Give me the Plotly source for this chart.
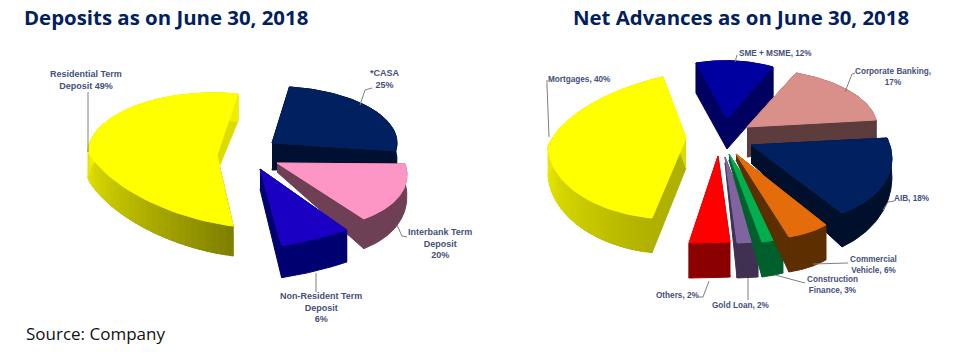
import numpy as np
import plotly.graph_objects as go

# ---------- data ----------
dep_labels = ["*CASA", "Interbank Term Deposit", "Non-Resident Term Deposit", "Residential Term Deposit"]
dep_values = [25, 20, 6, 49]
adv_labels = ["SME + MSME", "Corporate Banking", "AIB", "Commercial Vehicle", "Construction Finance",
              "Gold Loan", "Others", "Mortgages"]
adv_values = [12, 17, 18, 6, 3, 2, 2, 40]

title_left = "Deposits as on June 30, 2018"
title_right = "Net Advances as on June 30, 2018"
source_text = "Source: Company"

# ---------- styling / projection per slice ----------
# ax, ay: top-face apex on page; rx, kb, kf, ryb, ryf, ky: projection; d0, d1, da: wall depth; b: rim bulge
dep_style = [
    dict(ax=272, ay=143, rx=125, kb=0, kf=0, ryb=56.6, ryf=56.6, ky=0, d0=17, d1=0, da=27, top="#002060", wall=("#001030", "#001030")),
    dict(ax=277, ay=163, rx=120, kb=67, kf=67, ryb=58, ryf=58, ky=-7.1, d0=17, d1=13, da=9, b=0.6, top="#fd95c5", wall=("#6e3f55", "#6e3f55")),
    dict(ax=260, ay=169, rx=173, kb=57.6, kf=57.6, ryb=69.5, ryf=69.5, ky=-42.9, d0=30, d1=2, da=20, top="#1a00c2", wall=("#000070", "#000070")),
    dict(ax=217, ay=155, rx=129, kb=-3, kf=43, ryb=62, ryf=73.2, ky=3, d0=27, d1=3, da=17, top="#ffff00", wall=("#808000", "#eeee00")),
]
adv_style = [
    dict(ax=727, ay=119, rx=104.7, kb=-5.1, kf=-5.1, ryb=58.2, ryf=58.2, ky=3.8, d0=30, d1=0, da=30, top="#0000a0", wall=("#000060", "#000060")),
    dict(ax=747, ay=127, rx=129.9, kb=2.4, kf=2.4, ryb=58.2, ryf=58.2, ky=-1.3, d0=18, d1=0, da=30, top="#d98f8a", wall=("#5c3c3c", "#5c3c3c")),
    dict(ax=751, ay=145, rx=139, kb=23.1, kf=23.1, ryb=78.8, ryf=78.8, ky=0.72, d0=15, d1=22, da=18, top="#002060", wall=("#00102c", "#00102c")),
    dict(ax=736, ay=154, rx=117.7, kb=34.6, kf=34.6, ryb=84.6, ryf=84.6, ky=-3.3, d0=35, d1=0, da=6, top="#e46c0a", wall=("#5c2e00", "#5c2e00")),
    dict(ax=729, ay=154, rx=114, kb=36.2, kf=36.2, ryb=87.6, ryf=87.6, ky=-15.2, d0=35, d1=0, da=6, top="#00b050", wall=("#00602c", "#00602c")),
    dict(ax=725, ay=157, rx=164, kb=37.6, kf=37.6, ryb=84.5, ryf=84.5, ky=-16, d0=35, d1=0, da=6, top="#8064a2", wall=("#403152", "#403152")),
    dict(ax=718, ay=156, rx=319.7, kb=61.6, kf=61.6, ryb=83, ryf=83, ky=-26.3, d0=35, d1=0, da=6, top="#ff0000", wall=("#8b0000", "#8b0000")),
    dict(ax=686, ay=138, rx=138, kb=-25.7, kf=4.2, ryb=68.2, ryf=80.7, ky=-9, d0=27, d1=8, da=30, top="#ffff00", wall=("#b0b000", "#e8e800")),
]
dep_start = 82
adv_start = 110
dep_draw = [0, 3, 1, 2]
adv_draw = [7, 0, 1, 2, 6, 5, 4, 3]

dep_notes = [
    ("Residential Term<br>Deposit 49%", 86, 80),
    ("*CASA<br>25%", 385, 79),
    ("Interbank Term<br>Deposit<br>20%", 440, 243),
    ("Non-Resident Term<br>Deposit<br>6%", 321, 307),
]
adv_notes = [
    ("Mortgages, 40%", 579, 79),
    ("SME + MSME, 12%", 775, 53),
    ("Corporate Banking,<br>17%", 893, 77),
    ("AIB, 18%", 912, 198),
    ("Commercial<br>Vehicle, 6%", 873, 265),
    ("Construction<br>Finance, 3%", 832, 285),
    ("Gold Loan, 2%", 741, 305),
    ("Others, 2%", 677, 295),
]
leaders = [
    ([88, 88], [92, 152]),
    ([372, 365, 360], [88, 90, 105]),
    ([407, 402, 397], [237, 236, 225]),
    ([316, 316], [273, 292]),
    ([547, 547, 549], [80, 85, 137]),
    ([735, 737], [62, 55]),
    ([845, 852, 855], [92, 74, 73]),
    ([883, 888, 894], [210, 202, 201]),
    ([813, 848], [264, 263]),
    ([775, 805], [275, 283]),
    ([748, 748], [278, 300]),
    ([709, 703, 698], [281, 297, 297]),
]


def project(s, deg):
    t = np.radians(deg)
    c, n = np.cos(t), np.sin(t)
    k = np.where(n > 0, s["kb"], s["kf"])
    ry = np.where(n > 0, s["ryb"], s["ryf"])
    x = s["ax"] + s["rx"] * c - k * n
    y = s["ay"] - ry * n + s["ky"] * c
    d = s["d0"] + s["d1"] * np.maximum(0, -n)
    b = s.get("b", 1.0)
    f = np.linspace(0, 1, len(x))
    x = x[0] + (x[-1] - x[0]) * f + b * (x - x[0] - (x[-1] - x[0]) * f)
    y = y[0] + (y[-1] - y[0]) * f + b * (y - y[0] - (y[-1] - y[0]) * f)
    return x, y, d


def mix(c0, c1, t):
    a = [int(c0[i:i + 2], 16) for i in (1, 3, 5)]
    b = [int(c1[i:i + 2], 16) for i in (1, 3, 5)]
    return "#%02x%02x%02x" % tuple(int(round(p + (q - p) * t)) for p, q in zip(a, b))


def poly(fig, x, y, color):
    fig.add_trace(go.Scatter(x=list(x), y=list(y), mode="lines", fill="toself", fillcolor=color,
                             line=dict(color=color, width=1), hoverinfo="skip", showlegend=False))


def draw_pie(fig, values, styles, start, order):
    edges = start - np.concatenate([[0], np.cumsum(values)]) * 3.6
    for i in order:
        s = styles[i]
        a0, a1 = edges[i], edges[i + 1]
        ang = np.linspace(a0, a1, 61)
        x, y, d = project(s, ang)
        flat = s["wall"][0] == s["wall"][1]
        # cut walls
        for j, col in ((0, s["wall"][0]), (-1, s["wall"][0] if flat else "#dcdc00")):
            poly(fig, [s["ax"], x[j], x[j], s["ax"]],
                 [s["ay"], y[j], y[j] + d[j], s["ay"] + s["da"]], col)
        # rim wall, shaded stepwise when it has a gradient
        if flat:
            poly(fig, np.r_[x, x[::-1]], np.r_[y, (y + d)[::-1]], s["wall"][0])
        else:
            for q in range(0, len(ang) - 1):
                e = min(q + 4, len(ang))
                t = min(1.0, q / 30.0)
                col = mix(s["wall"][0], s["wall"][1], t)
                poly(fig, np.r_[x[q:e], x[q:e][::-1]], np.r_[y[q:e], (y + d)[q:e][::-1]], col)
        # top face
        poly(fig, np.r_[s["ax"], x, s["ax"]], np.r_[s["ay"], y, s["ay"]], s["top"])


fig = go.Figure()
draw_pie(fig, dep_values, dep_style, dep_start, dep_draw)
draw_pie(fig, adv_values, adv_style, adv_start, adv_draw)

for lx, ly in leaders:
    fig.add_trace(go.Scatter(x=lx, y=ly, mode="lines", line=dict(color="#7f7f7f", width=1),
                             hoverinfo="skip", showlegend=False))

for notes, size in ((dep_notes, 9), (adv_notes, 8.2)):
    for text, x, y in notes:
        fig.add_annotation(x=x, y=y, text=text, showarrow=False, xanchor="center", yanchor="middle",
                           align="center", font=dict(family="Liberation Sans", size=size, color="#44507c", weight="bold"))

fig.add_annotation(x=166, y=17, text="<b>" + title_left + "</b>", showarrow=False,
                   font=dict(family="Open Sans", size=20.4, color="#002060"))
fig.add_annotation(x=741, y=17, text="<b>" + title_right + "</b>", showarrow=False,
                   font=dict(family="Open Sans", size=20.4, color="#002060"))
fig.add_annotation(x=24, y=333, text=source_text, showarrow=False, xanchor="left",
                   font=dict(family="Open Sans", size=17, color="#111111"))

fig.update_layout(
    width=966, height=363, margin=dict(l=0, r=0, t=0, b=0),
    paper_bgcolor="white", plot_bgcolor="white", showlegend=False,
    xaxis=dict(range=[0, 966], visible=False, fixedrange=True),
    yaxis=dict(range=[363, 0], visible=False, fixedrange=True),
)
fig.write_html("out.html", config={"displayModeBar": False},
               post_script="document.body.style.margin='0';document.body.style.overflow='hidden';")
